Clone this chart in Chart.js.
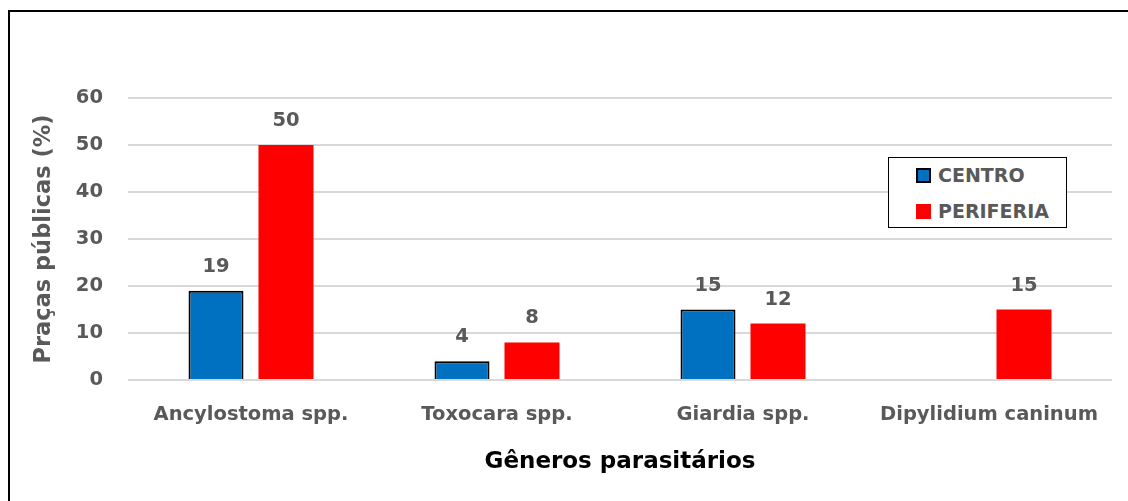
<!DOCTYPE html>
<html>
<head>
<meta charset="utf-8">
<script src="https://cdn.jsdelivr.net/npm/chart.js@4.4.1/dist/chart.umd.min.js"></script>
<style>
  html, body { margin: 0; padding: 0; background: #fff; }
  #wrap { position: relative; width: 1128px; height: 501px; overflow: hidden; }
  #frame { position: absolute; left: 8px; top: 10px; width: 1200px; height: 600px; border: 2px solid #000; box-sizing: border-box; pointer-events: none; }
  #legend { position: absolute; left: 888px; top: 157px; width: 179px; height: 71px; border: 1.5px solid #000; box-sizing: border-box; background: #fff; font-family: "DejaVu Sans", sans-serif; font-weight: bold; font-size: 19px; color: #595959; }
  .item { position: absolute; left: 27px; display: flex; align-items: center; line-height: 20px; }
  .sw { width: 15px; height: 15px; margin-right: 7px; box-sizing: border-box; }
</style>
</head>
<body>
<div id="wrap">
  <canvas id="c" width="1128" height="501"></canvas>
  <div id="frame"></div>
  <div id="legend">
    <div class="item" style="top:7px"><div class="sw" style="background:#0070C0;border:2px solid #000"></div><span>CENTRO</span></div>
    <div class="item" style="top:43px"><div class="sw" style="background:#FF0000"></div><span>PERIFERIA</span></div>
  </div>
</div>
<script>
const categories = ["Ancylostoma spp.", "Toxocara spp.", "Giardia spp.", "Dipylidium caninum"];
const seriesNames = ["CENTRO", "PERIFERIA"];
const centro = [19, 4, 15, null];
const periferia = [50, 8, 12, 15];
const yTicks = [0, 10, 20, 30, 40, 50, 60];

const FONT = "'DejaVu Sans', sans-serif";

const labelPlugin = {
  id: 'valueLabels',
  afterDatasetsDraw(chart) {
    const ctx = chart.ctx;
    ctx.save();
    ctx.font = "bold 19.5px " + FONT;
    ctx.fillStyle = '#595959';
    ctx.textAlign = 'center';
    ctx.textBaseline = 'middle';
    chart.data.datasets.forEach((ds, i) => {
      const meta = chart.getDatasetMeta(i);
      meta.data.forEach((bar, j) => {
        const v = ds.data[j];
        if (v === null || v === undefined) return;
        ctx.fillText(String(v), bar.x, bar.y - 24);
      });
    });
    ctx.restore();
  }
};

new Chart(document.getElementById('c'), {
  type: 'bar',
  data: {
    labels: categories,
    datasets: [
      { label: seriesNames[0], data: centro, backgroundColor: '#0070C0', borderColor: '#000', borderWidth: 2 },
      { label: seriesNames[1], data: periferia, backgroundColor: '#FF0000', borderWidth: 0 }
    ]
  },
  options: {
    responsive: false,
    animation: false,
    devicePixelRatio: 1,
    layout: { padding: { top: 98, right: 16, left: 0, bottom: 0 } },
    categoryPercentage: 0.569,
    barPercentage: 0.786,
    plugins: { legend: { display: false }, tooltip: { enabled: false } },
    scales: {
      x: {
        grid: { display: false, drawTicks: false },
        border: { display: false },
        ticks: { color: '#595959', font: { family: FONT, size: 19.5, weight: 'bold' }, padding: 23, maxRotation: 0 },
        title: { display: true, text: 'Gêneros parasitários', color: '#000', font: { family: FONT, size: 23, weight: 'bold' }, padding: { top: 0, bottom: 25 } },
        afterFit(s) { s.height = 121; }
      },
      y: {
        min: 0, max: 60,
        afterBuildTicks(s) { s.ticks = yTicks.map(v => ({ value: v })); },
        grid: { color: '#D9D9D9', lineWidth: 2, drawTicks: false },
        border: { display: false },
        ticks: { color: '#595959', font: { family: FONT, size: 19.5, weight: 'bold' }, padding: 25 },
        title: { display: true, text: 'Praças públicas (%)', color: '#595959', font: { family: FONT, size: 22.5, weight: 'bold' }, padding: { top: 31, bottom: 0 } },
        afterFit(s) { s.width = 128; }
      }
    }
  },
  plugins: [labelPlugin]
});
</script>
</body>
</html>
